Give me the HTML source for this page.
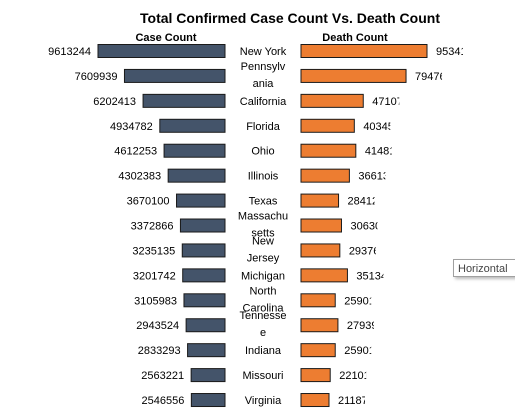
<!DOCTYPE html>
<html><head><meta charset="utf-8"><style>
body{margin:0;background:#fff;width:515px;height:417px;overflow:hidden;font-family:"Liberation Sans",sans-serif}
svg{position:absolute;left:0;top:0}
#tip{position:absolute;left:453px;top:259px;width:66px;height:18px;border:1px solid #a0a0a0;background:#fff;font-size:11px;line-height:18px;padding-left:4px;color:#444;box-shadow:2px 2px 3px #bbb;box-sizing:border-box}
</style></head><body>
<svg id="chart" width="515" height="417" xmlns="http://www.w3.org/2000/svg">
<text x="290" y="23" text-anchor="middle" font-size="14" font-weight="bold" fill="#000">Total Confirmed Case Count Vs. Death Count</text>
<text x="166" y="41" text-anchor="middle" font-size="11" font-weight="bold">Case Count</text>
<text x="355" y="41" text-anchor="middle" font-size="11" font-weight="bold">Death Count</text>
<defs id="defs"></defs>
<g id="marks"></g>
</svg>
<div id="tip">Horizontal</div>
<script>
const states=["New York","Pennsylvania","California","Florida","Ohio","Illinois","Texas","Massachusetts","New Jersey","Michigan","North Carolina","Tennessee","Indiana","Missouri","Virginia"];
const labelLines=[["New York"],["Pennsylv","ania"],["California"],["Florida"],["Ohio"],["Illinois"],["Texas"],["Massachu","setts"],["New","Jersey"],["Michigan"],["North","Carolina"],["Tennesse","e"],["Indiana"],["Missouri"],["Virginia"]];
const cases=[9613244,7609939,6202413,4934782,4612253,4302383,3670100,3372866,3235135,3201742,3105983,2943524,2833293,2563221,2546556];
const deaths=[95341,79476,47107,40345,41481,36613,28412,30630,29376,35134,25901,27939,25901,22101,21187];
const NS="http://www.w3.org/2000/svg";
const g=document.getElementById('marks');
const defs=document.getElementById('defs');
const yC=i=>51+i*24.93;
const xCase=v=>v/9613244*127;
const xDeath=v=>v/95341*126;
function el(t,a,p){const e=document.createElementNS(NS,t);for(const k in a)e.setAttribute(k,a[k]);(p||g).appendChild(e);return e;}
states.forEach((s,i)=>{
  const y=yC(i);
  const w1=xCase(cases[i]);
  const b1=el('rect',{x:225-w1,y:y-6.5,width:w1,height:13,fill:'#44546a',stroke:'#1a1a1a','stroke-width':1});
  
  
  const t1=el('text',{x:225-w1-7,y:y+4,'text-anchor':'end','font-size':11,fill:'#000'});
  t1.textContent=cases[i];
  
  
  const w2=xDeath(deaths[i]);
  const b2=el('rect',{x:301,y:y-6.5,width:w2,height:13,fill:'#ed7d31',stroke:'#1a1a1a','stroke-width':1});
  
  
  const cp=el('clipPath',{id:'c'+i},defs);
  el('rect',{x:301+w2+8,y:y-10,width:28,height:20},cp);
  const t2=el('text',{x:301+w2+9,y:y+4,'font-size':11,fill:'#000','clip-path':'url(#c'+i+')'});
  t2.textContent=deaths[i];
  
  
  const L=labelLines[i];
  const t3=el('text',{x:263,'text-anchor':'middle','font-size':11,fill:'#000'});
  
  
  L.forEach((ln,j)=>{const ts=document.createElementNS(NS,'tspan');ts.setAttribute('x',263);ts.setAttribute('y',L.length==1?y+4:y-6+j*17);ts.textContent=ln;t3.appendChild(ts);});
});
</script>
</body></html>
